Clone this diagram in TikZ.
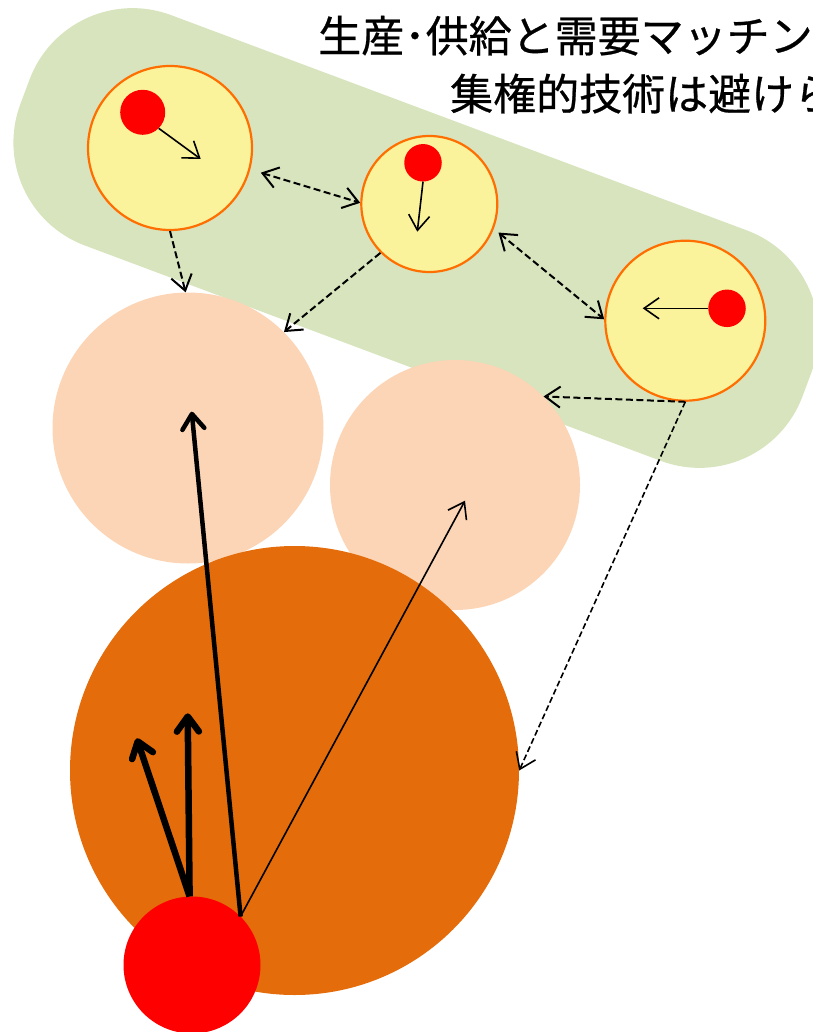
\documentclass[tikz,border=0pt]{standalone}
\usepackage{fontspec}
\newfontfamily\jpfont[FakeBold=0.6]{Noto Sans CJK JP}
\usetikzlibrary{arrows.meta}
\definecolor{bandgreen}{RGB}{215,228,189}
\definecolor{lightyellow}{RGB}{250,243,155}
\definecolor{ringorange}{RGB}{255,110,0}
\definecolor{peach}{RGB}{251,213,181}
\definecolor{darkorange}{RGB}{228,108,10}
\tikzset{
  unit/.style={circle, inner sep=0pt, fill=lightyellow, draw=ringorange, line width=2.2pt},
  dot/.style={circle, inner sep=0pt, fill=red, draw=none},
  blob/.style={circle, inner sep=0pt, draw=none},
  dlink/.style={black, line width=2pt, dash pattern=on 7pt off 3.5pt, -{Straight Barb[length=15pt, width=21pt, line width=2pt]}},
  dlinkboth/.style={black, line width=2pt, dash pattern=on 7pt off 3.5pt, {Straight Barb[length=15pt, width=21pt, line width=2pt]}-{Straight Barb[length=15pt, width=21pt, line width=2pt]}},
  thinlink/.style={black, line width=1.6pt, dash pattern=on 6pt off 3pt, -{Straight Barb[length=15pt, width=21pt, line width=1.6pt]}},
  thinarrow/.style={black, line width=1.6pt, -{Straight Barb[length=15pt, width=21pt, line width=1.6pt]}},
  thickarrow/.style={black, line width=6.5pt, -{Straight Barb[length=15pt, width=22pt, line width=6.5pt, round]}},
  longarrow/.style={black, line width=4.5pt, -{Straight Barb[length=15pt, width=22pt, line width=4.5pt, round]}},
  title/.style={anchor=base west, inner sep=0pt, font=\jpfont\fontsize{43}{50}\selectfont}
}
\begin{document}
\begin{tikzpicture}[x=1pt, y=-1pt]
\useasboundingbox (0,0) rectangle (812,1032);
% green band
\node[fill=bandgreen, rounded corners=110pt, rotate=-20.5, minimum width=835pt, minimum height=246pt, inner sep=0pt] (band) at (416,238) {};
% title
\node[title] (t1) at (318,52) {生産･供給と需要マッチン};
\node[title] (t2) at (450,110) {集権的技術は避けら};
% peach circles
\node[blob, fill=peach, minimum size=271pt] (p1) at (188,428) {};
\node[blob, fill=peach, minimum size=250pt] (p2) at (455,485) {};
% big orange
\node[blob, fill=darkorange, minimum size=449pt] (big) at (294.5,770.5) {};
% units
\node[unit, minimum size=164pt] (y1) at (170,148) {};
\node[unit, minimum size=136pt] (y2) at (429.3,204) {};
\node[unit, minimum size=160pt] (y3) at (685.3,320.7) {};
\node[dot, minimum size=45pt] (r1) at (142.7,112.3) {};
\node[dot, minimum size=37.5pt] (r2) at (423,162.8) {};
\node[dot, minimum size=37.5pt] (r3) at (727,308.3) {};
% bottom red
\node[dot, minimum size=137pt] (rb) at (192,965) {};
% free ends
\coordinate (e1) at (200.7,159);
\coordinate (e2) at (417.3,231.7);
\coordinate (e3) at (642.7,308.3);
\coordinate (e4) at (187.7,713.3);
\coordinate (e5) at (136.7,738.3);
\coordinate (e6) at (191.7,411.7);
\coordinate (e7) at (465,500.7);
% inner arrows
\draw[thinarrow] (r1.-45) -- (e1);
\draw[thinarrow] (r2.south) -- (e2);
\draw[thinarrow] (r3.west) -- (e3);
% dashed links
\draw[dlinkboth, shorten <=11pt] (y1.-15) -- (y2.179);
\draw[dlink] (y1.south) -- (p1.91);
\draw[dlink] (y2.-135) -- (p1.45);
\draw[dlinkboth, shorten <=6pt] (y2.-21.6) -- (y3.179);
\draw[dlink] (y3.south) -- (p2.45);
\draw[thinlink] (y3.south) -- (big.east);
% bottom arrows
\draw[thickarrow] (rb.92) -- (e4);
\draw[thickarrow] (rb.92) -- (e5);
\draw[longarrow] (rb.45) -- (e6);
\draw[thinarrow] (rb.45) -- (e7);
\end{tikzpicture}
\end{document}
